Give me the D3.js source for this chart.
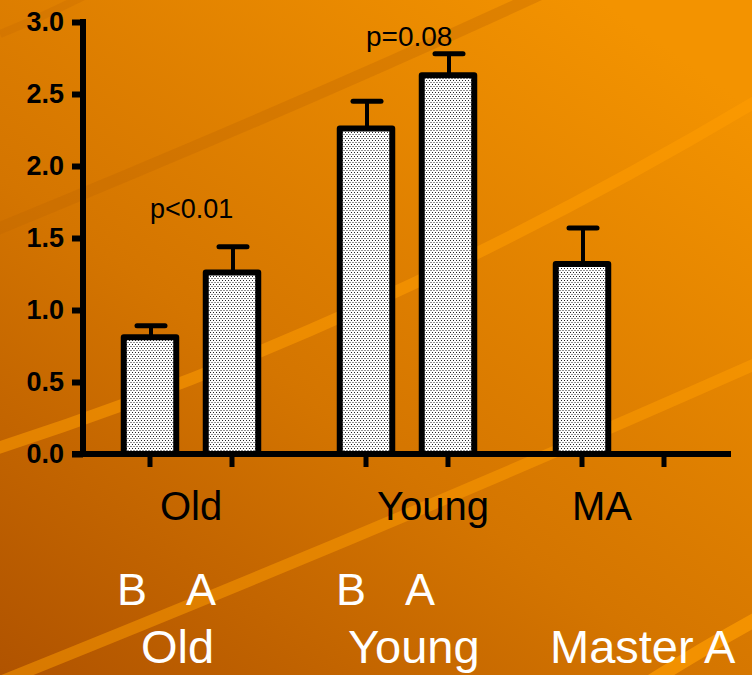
<!DOCTYPE html>
<html>
<head>
<meta charset="utf-8">
<script src="https://cdn.jsdelivr.net/npm/d3@7"></script>
<style>
  html, body { margin: 0; padding: 0; background: #d67a00; }
  svg { display: block; }
</style>
</head>
<body>
<svg id="chart" width="752" height="675"></svg>
<script>
// ---------------- data ----------------
const groups      = ["Old", "Young", "MA"];
const conditions  = ["B", "A"];
const barGroup    = ["Old", "Old", "Young", "Young", "MA"];
const barCond     = ["B", "A", "B", "A", "B"];
const barMean     = [0.81, 1.26, 2.26, 2.63, 1.32];
const barSEM      = [0.08, 0.18, 0.19, 0.15, 0.25];
const yTicks      = [0.0, 0.5, 1.0, 1.5, 2.0, 2.5, 3.0];
const pLabels     = ["p<0.01", "p=0.08"];
const pLabelGroup = ["Old", "Young"];
const pLabelLevel = [1.64, 2.83];
const axisLabels  = ["Old", "Young", "MA"];
const condLabels  = ["B", "A", "B", "A"];
const groupLabels = ["Old", "Young", "Master A"];

// ---------------- layout ----------------
const W = 752, H = 675;
const svg = d3.select("#chart");
const defs = svg.append("defs");

// background gradient
const grad = defs.append("linearGradient").attr("id", "bg")
  .attr("x1", 0).attr("y1", 1).attr("x2", 0.8).attr("y2", 0);
grad.append("stop").attr("offset", "0%").attr("stop-color", "#b05300");
grad.append("stop").attr("offset", "45%").attr("stop-color", "#d47500");
grad.append("stop").attr("offset", "100%").attr("stop-color", "#f39300");

// dotted bar fill
const pat = defs.append("pattern").attr("id", "dots")
  .attr("patternUnits", "userSpaceOnUse").attr("width", 6).attr("height", 4);
pat.append("rect").attr("width", 6).attr("height", 4).attr("fill", "#ffffff");
[[0,0],[3,0],[1.5,2],[4.5,2]].forEach(([px,py]) =>
  pat.append("rect").attr("x", px).attr("y", py).attr("width", 1).attr("height", 1).attr("fill", "#222"));

svg.append("rect").attr("width", W).attr("height", H).attr("fill", "url(#bg)");

// decorative swooshes
const bgG = svg.append("g").attr("fill", "none");
bgG.append("path").attr("d", "M0,34 Q40,18 84,-4")
  .attr("stroke", "#c86d00").attr("stroke-opacity", 0.35).attr("stroke-width", 8);
bgG.append("path").attr("d", "M-5,230 Q300,105 545,-8")
  .attr("stroke", "#c06600").attr("stroke-opacity", 0.35).attr("stroke-width", 12);
bgG.append("path").attr("d", "M-5,449 Q383,324 760,99")
  .attr("stroke", "#ff9d00").attr("stroke-opacity", 0.55).attr("stroke-width", 12);
bgG.append("path").attr("d", "M-20,690 Q400,522 760,362")
  .attr("stroke", "#ff9d00").attr("stroke-opacity", 0.5).attr("stroke-width", 12);
bgG.append("path").attr("d", "M650,682 Q700,650 760,617")
  .attr("stroke", "#ff9d00").attr("stroke-opacity", 0.7).attr("stroke-width", 14);

// scales
const axisX = 83;
const y = d3.scaleLinear().domain([0, 3]).range([454, 22]);
const xGroup = d3.scaleBand().domain(groups).range([axisX, 731])
  .paddingInner(0.2).paddingOuter(0.1);
const gCenter = g => xGroup(g) + xGroup.bandwidth() / 2;
const xInner = g => d3.scaleBand().domain(conditions)
  .range([gCenter(g) - 82, gCenter(g) + 82]).paddingInner(0.36).paddingOuter(0.18);
const slotX = (g, c) => xInner(g)(c);
const slotW = xInner(groups[0]).bandwidth();
const slotC = (g, c) => slotX(g, c) + slotW / 2;

const bars = barMean.map((m, i) => ({ g: barGroup[i], c: barCond[i], m, e: barSEM[i] }));

// bars
svg.append("g").selectAll("rect").data(bars).join("rect")
  .attr("x", d => slotX(d.g, d.c))
  .attr("width", slotW)
  .attr("y", d => y(d.m))
  .attr("height", d => y(0) - y(d.m))
  .attr("fill", "url(#dots)")
  .attr("stroke", "#000").attr("stroke-width", 6)
  .attr("stroke-linejoin", "round");

// error bars
const eb = svg.append("g").attr("stroke", "#000");
eb.selectAll("line.v").data(bars).join("line").attr("class", "v")
  .attr("x1", d => slotC(d.g, d.c) + 1).attr("x2", d => slotC(d.g, d.c) + 1)
  .attr("y1", d => y(d.m) - 2).attr("y2", d => y(d.m + d.e))
  .attr("stroke-width", 4);
eb.selectAll("line.h").data(bars).join("line").attr("class", "h")
  .attr("x1", d => slotC(d.g, d.c) - 13).attr("x2", d => slotC(d.g, d.c) + 15)
  .attr("y1", d => y(d.m + d.e)).attr("y2", d => y(d.m + d.e))
  .attr("stroke-width", 5).attr("stroke-linecap", "round");

// y axis
const yAxis = svg.append("g").attr("transform", `translate(${axisX},0)`)
  .call(d3.axisLeft(y).tickValues(yTicks).tickFormat(d3.format(".1f"))
    .tickSize(11).tickSizeOuter(0).tickPadding(8));
yAxis.select(".domain").attr("stroke", "#000").attr("stroke-width", 6)
  .attr("d", `M0,${y(3) - 3}V${y(0) + 3}`);
yAxis.selectAll(".tick line").attr("stroke", "#000").attr("stroke-width", 6);
yAxis.selectAll(".tick text")
  .attr("font-family", "Liberation Sans, Arial, sans-serif")
  .attr("font-weight", "bold").attr("font-size", 27).attr("fill", "#000");

// x axis
const slots = groups.flatMap(g => conditions.map(c => ({ g, c })));
const xa = svg.append("g").attr("stroke", "#000");
xa.append("line").attr("x1", axisX - 11).attr("x2", 731)
  .attr("y1", y(0)).attr("y2", y(0)).attr("stroke-width", 6);
xa.selectAll("line.t").data(slots).join("line").attr("class", "t")
  .attr("x1", d => slotC(d.g, d.c)).attr("x2", d => slotC(d.g, d.c))
  .attr("y1", y(0)).attr("y2", y(0) + 13).attr("stroke-width", 5);

// texts
const font = "Liberation Sans, Arial, sans-serif";
const pSizes = [27, 28];
svg.append("g").selectAll("text").data(pLabels).join("text")
  .attr("x", (d, i) => slotX(pLabelGroup[i], "B") + slotW / 2)
  .attr("y", (d, i) => y(pLabelLevel[i]))
  .attr("font-family", font).attr("font-size", (d, i) => pSizes[i])
  .attr("fill", "#000").text(d => d);

const axisLabelX = [160, 377, 572];
svg.append("g").selectAll("text").data(axisLabels).join("text")
  .attr("x", (d, i) => axisLabelX[i]).attr("y", 520)
  .attr("font-family", font).attr("font-size", 40).attr("fill", "#000")
  .text(d => d);

const condLabelX = [117, 186, 336, 405];
svg.append("g").selectAll("text").data(condLabels).join("text")
  .attr("x", (d, i) => condLabelX[i]).attr("y", 605)
  .attr("font-family", font).attr("font-size", 45).attr("fill", "#fff")
  .text(d => d);

const groupLabelX = [141, 348, 550];
svg.append("g").selectAll("text").data(groupLabels).join("text")
  .attr("x", (d, i) => groupLabelX[i]).attr("y", 663)
  .attr("font-family", font).attr("font-size", 47).attr("fill", "#fff")
  .text(d => d);
</script>
</body>
</html>
